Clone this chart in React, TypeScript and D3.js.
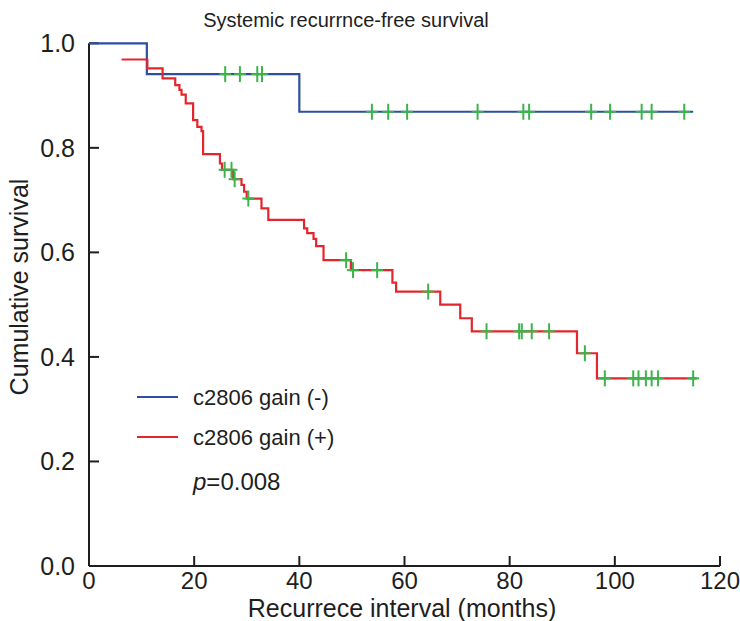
import * as d3 from 'd3';

// c2806 gain (-): Kaplan-Meier steps
const negTimes = [0, 11.0, 40.0];
const negSurv = [1.0, 0.941, 0.869];
const negEnd = 114.9;
const negCensor = [25.9, 28.7, 32.0, 32.9, 53.8, 56.9, 60.5, 73.9, 82.6, 83.7, 95.5, 99.1, 105.1, 107.0, 113.2];

// c2806 gain (+)
const posTimes = [6.2, 11.1, 14.0, 16.4, 17.2, 17.6, 18.4, 19.8, 20.6, 21.4, 21.7, 24.9, 25.3, 27.4, 29.0, 29.5, 30.0, 32.8, 34.1, 40.9, 41.5, 42.7, 43.2, 44.6, 49.8, 57.7, 58.4, 66.8, 70.6, 72.8, 92.8, 96.6];
const posSurv = [0.969, 0.952, 0.933, 0.92, 0.911, 0.902, 0.885, 0.853, 0.84, 0.832, 0.788, 0.77, 0.758, 0.74, 0.729, 0.716, 0.703, 0.684, 0.662, 0.646, 0.637, 0.626, 0.612, 0.585, 0.566, 0.542, 0.525, 0.5, 0.474, 0.449, 0.407, 0.359];
const posEnd = 115.6;
const posCensor = [25.8, 27.1, 27.7, 30.3, 48.9, 50.2, 54.8, 64.5, 75.6, 81.8, 82.3, 84.2, 87.5, 94.3, 98.1, 103.5, 104.5, 105.9, 107.0, 108.2, 114.9];

const xTicks = [0, 20, 40, 60, 80, 100, 120];
const yTicks = [0, 0.2, 0.4, 0.6, 0.8, 1.0];

const W = 740;
const H = 621;
const FONT = '"Liberation Sans", Arial, Helvetica, sans-serif';
const BLUE = '#2d4f9e';
const RED = '#e3262e';
const GREEN = '#3cb44a';
const INK = '#1e1e1e';

function survAt(times: number[], surv: number[], t: number) {
  let s = surv[0];
  for (let i = 0; i < times.length; i++) {
    if (times[i] <= t) s = surv[i];
  }
  return s;
}

export default function App() {
  const x = d3.scaleLinear().domain([0, 120]).range([89, 720]);
  const y = d3.scaleLinear().domain([0, 1]).range([566, 43.3]);

  const line = d3
    .line<[number, number]>()
    .x(d => x(d[0]))
    .y(d => y(d[1]))
    .curve(d3.curveStepAfter);

  const negPts: [number, number][] = negTimes.map((t, i) => [t, negSurv[i]]);
  negPts.push([negEnd, negSurv[negSurv.length - 1]]);
  const posPts: [number, number][] = posTimes.map((t, i) => [t, posSurv[i]]);
  posPts.push([posEnd, posSurv[posSurv.length - 1]]);

  const crosses = [
    ...negCensor.map(t => [t, survAt(negTimes, negSurv, t)]),
    ...posCensor.map(t => [t, survAt(posTimes, posSurv, t)]),
  ];

  return (
    <svg width={W} height={H} style={{ position: 'absolute', left: 0, top: 0, background: '#fff' }}>
      <text x={346} y={27} textAnchor="middle" fontFamily={FONT} fontSize={20} fill={INK}>
        Systemic recurrnce-free survival
      </text>

      {/* axes */}
      <g stroke={INK} strokeWidth={2} fill="none">
        <line x1={x(0)} x2={x(120)} y1={y(0)} y2={y(0)} />
        <line x1={x(0)} x2={x(0)} y1={y(0)} y2={y(1)} />
        {xTicks.map(t => (
          <line key={'xt' + t} x1={x(t)} x2={x(t)} y1={y(0)} y2={y(0) - 10} />
        ))}
        {yTicks.map(t => (
          <line key={'yt' + t} x1={x(0)} x2={x(0) + 10} y1={y(t)} y2={y(t)} />
        ))}
      </g>
      <g fontFamily={FONT} fill={INK}>
        {xTicks.map(t => (
          <text key={'xl' + t} x={x(t)} y={589} textAnchor="middle" fontSize={24}>
            {t}
          </text>
        ))}
        {yTicks.map(t => (
          <text key={'yl' + t} x={75} y={y(t) + 9} textAnchor="end" fontSize={25}>
            {t.toFixed(1)}
          </text>
        ))}
      </g>
      <text x={402} y={617} textAnchor="middle" fontFamily={FONT} fontSize={25} fill={INK}>
        Recurrece interval (months)
      </text>
      <text
        transform="translate(28,287) rotate(-90)"
        textAnchor="middle"
        fontFamily={FONT}
        fontSize={25}
        fill={INK}
      >
        Cumulative survival
      </text>

      {/* curves */}
      <path d={line(negPts) || ''} fill="none" stroke={BLUE} strokeWidth={2.2} />
      <path d={line(posPts) || ''} fill="none" stroke={RED} strokeWidth={2.2} />

      <g stroke={GREEN} strokeWidth={2}>
        {crosses.map((c, i) => (
          <g key={'c' + i}>
            <line x1={x(c[0])} x2={x(c[0])} y1={y(c[1]) - 8} y2={y(c[1]) + 8} />
            <line x1={x(c[0]) - 6} x2={x(c[0]) + 6} y1={y(c[1])} y2={y(c[1])} />
          </g>
        ))}
      </g>

      {/* legend */}
      <line x1={137} x2={178} y1={397} y2={397} stroke={BLUE} strokeWidth={2.2} />
      <line x1={137} x2={178} y1={437} y2={437} stroke={RED} strokeWidth={2.2} />
      <g fontFamily={FONT} fill={INK}>
        <text x={193} y={405} fontSize={22}>c2806 gain (-)</text>
        <text x={193} y={445} fontSize={22}>c2806 gain (+)</text>
        <text x={193} y={490} fontSize={24}>
          <tspan fontStyle="italic">p</tspan>=0.008
        </text>
      </g>
    </svg>
  );
}
